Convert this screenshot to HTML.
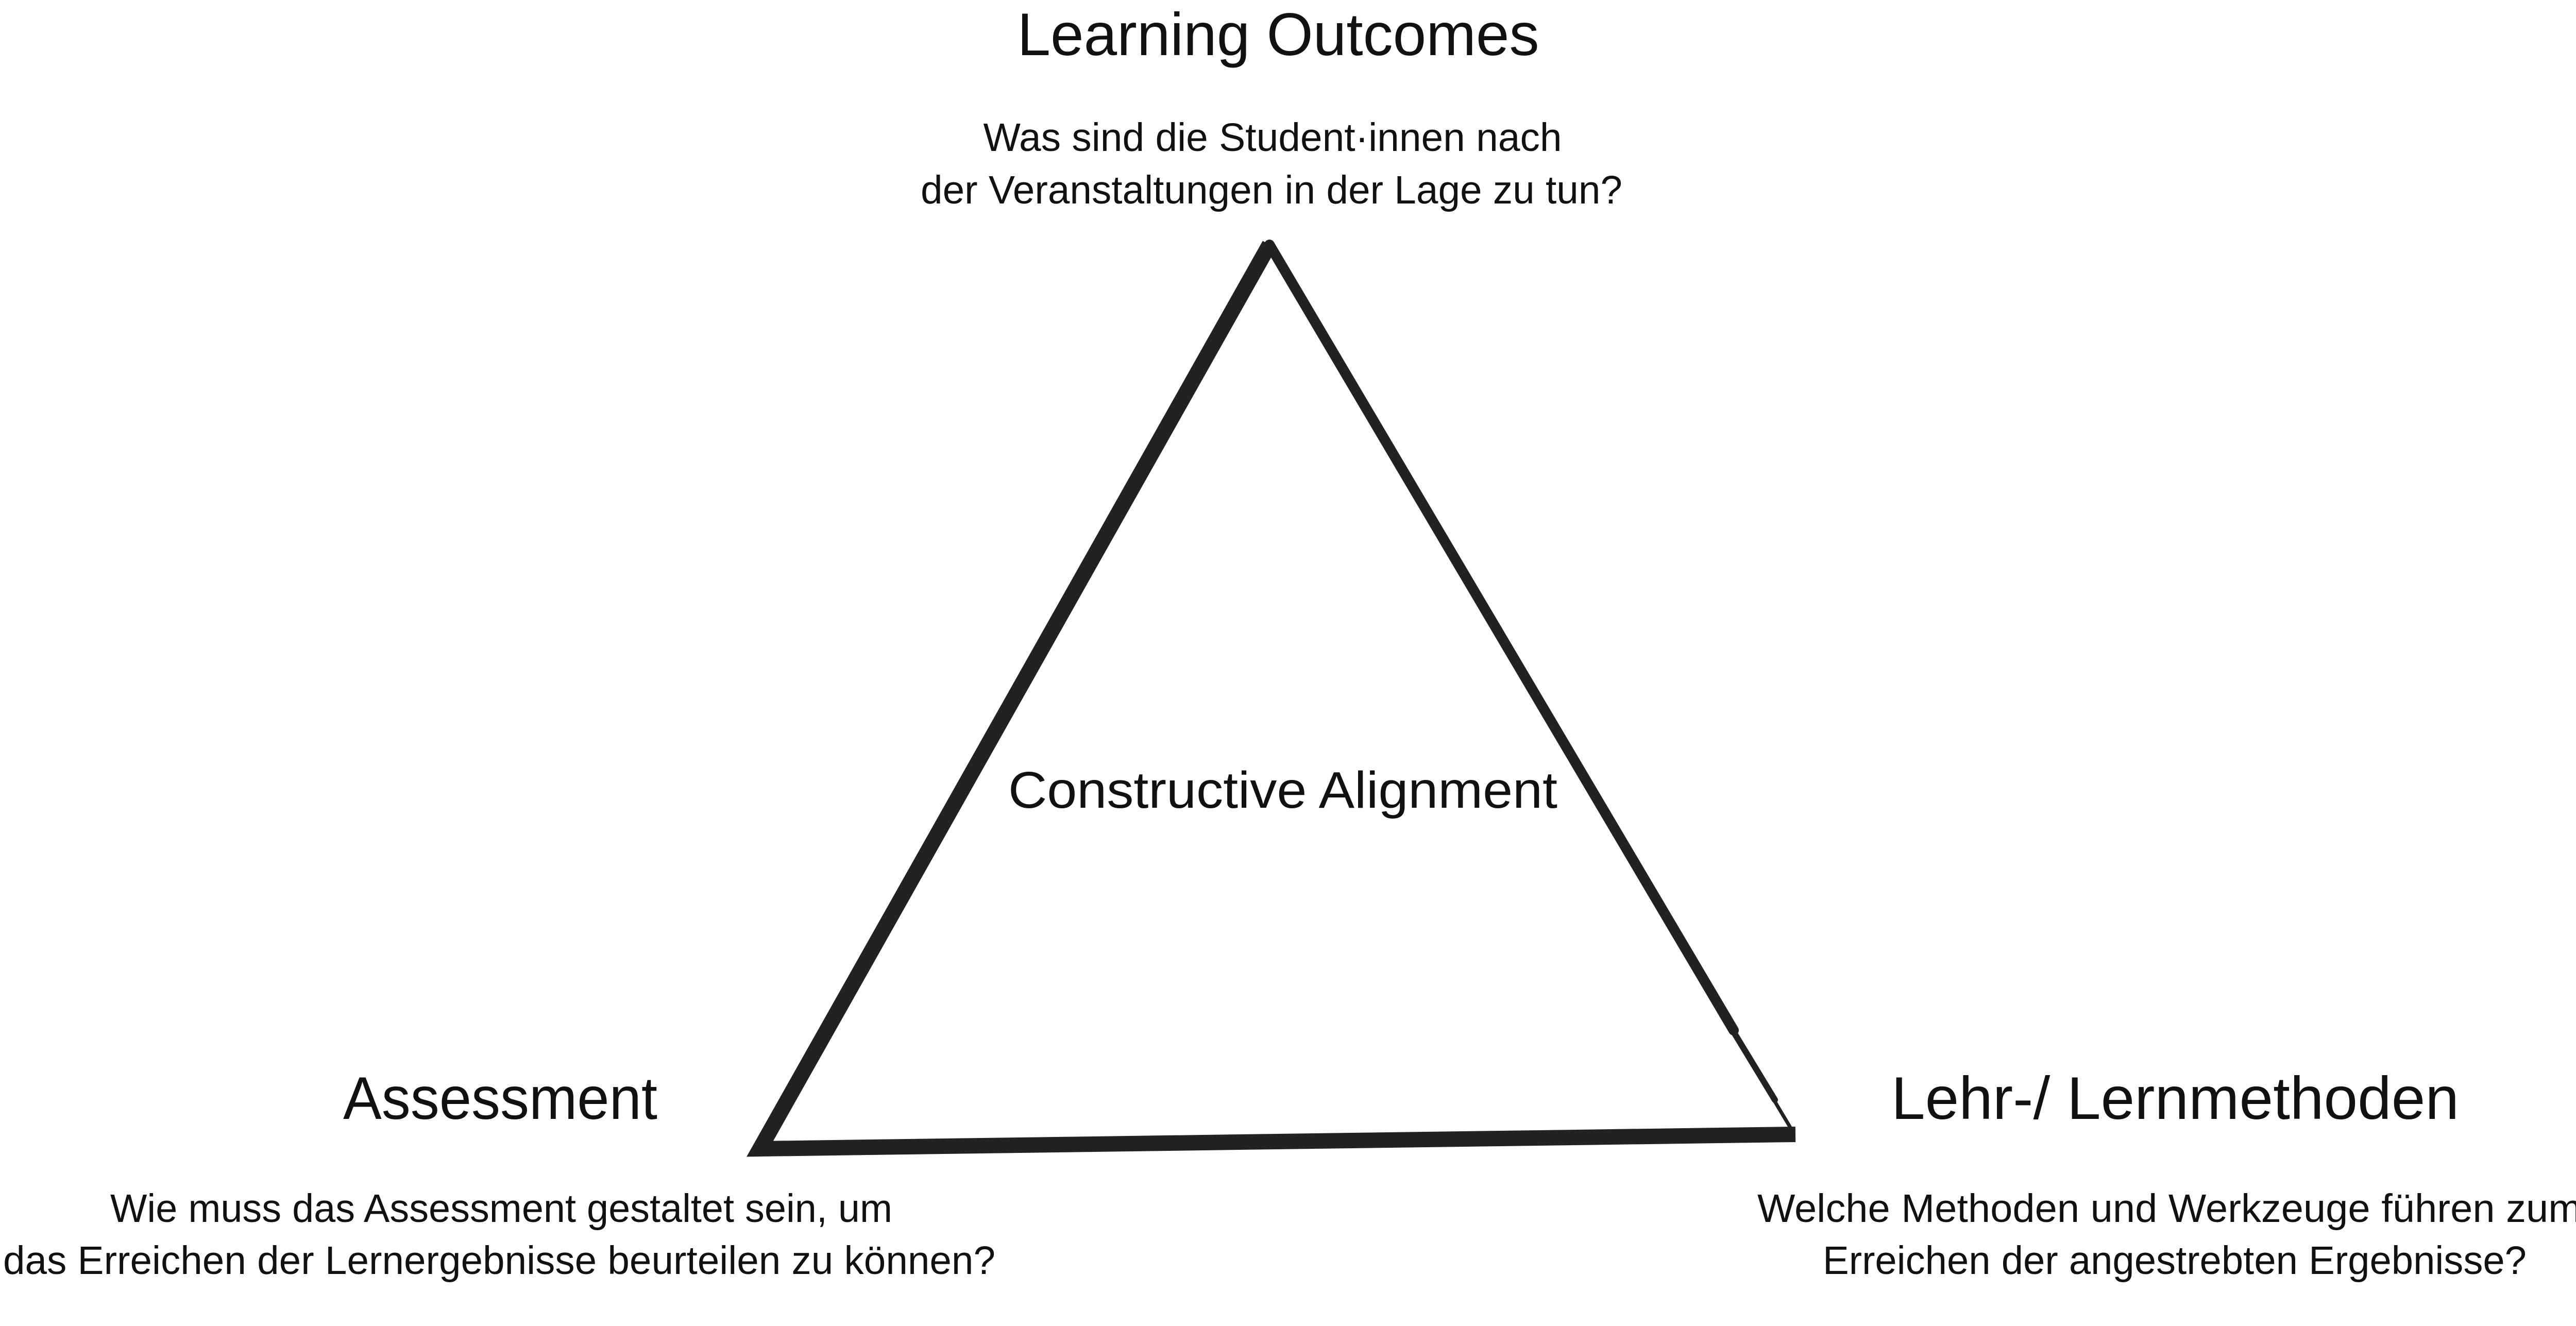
<!DOCTYPE html>
<html><head><meta charset="utf-8"><style>
html,body{margin:0;padding:0;background:#fff;}
svg{display:block;}
text{font-family:"Liberation Sans",sans-serif;fill:#111;}
</style></head><body>
<svg width="5037" height="2574" viewBox="0 0 5037 2574" xmlns="http://www.w3.org/2000/svg">
<path d="M3485,2202 L1475,2230 L2464,475" fill="none" stroke="#222" stroke-width="30" stroke-linejoin="miter" stroke-miterlimit="10"/>
<path d="M2464,475 L3365,2000" fill="none" stroke="#222" stroke-width="20" stroke-linecap="round"/>
<path d="M3360,1995 L3445,2135" fill="none" stroke="#222" stroke-width="12" stroke-linecap="round"/>
<path d="M3440,2130 L3480,2197" fill="none" stroke="#222" stroke-width="7" stroke-linecap="round"/>
<text x="2481" y="107" font-size="117" text-anchor="middle" textLength="1013" lengthAdjust="spacingAndGlyphs">Learning Outcomes</text>
<text x="2470" y="293" font-size="77" text-anchor="middle" textLength="1123" lengthAdjust="spacingAndGlyphs">Was sind die Student·innen nach</text>
<text x="2468" y="395" font-size="77" text-anchor="middle" textLength="1362" lengthAdjust="spacingAndGlyphs">der Veranstaltungen in der Lage zu tun?</text>
<text x="2490" y="1568" font-size="100" text-anchor="middle" textLength="1066" lengthAdjust="spacingAndGlyphs">Constructive Alignment</text>
<text x="971" y="2172" font-size="117" text-anchor="middle" textLength="610" lengthAdjust="spacingAndGlyphs">Assessment</text>
<text x="973" y="2372" font-size="77" text-anchor="middle" textLength="1518" lengthAdjust="spacingAndGlyphs">Wie muss das Assessment gestaltet sein, um</text>
<text x="969" y="2473" font-size="77" text-anchor="middle" textLength="1926" lengthAdjust="spacingAndGlyphs">das Erreichen der Lernergebnisse beurteilen zu können?</text>
<text x="4222" y="2172" font-size="117" text-anchor="middle" textLength="1102" lengthAdjust="spacingAndGlyphs">Lehr-/ Lernmethoden</text>
<text x="4211" y="2372" font-size="77" text-anchor="middle" textLength="1600" lengthAdjust="spacingAndGlyphs">Welche Methoden und Werkzeuge führen zum</text>
<text x="4221" y="2473" font-size="77" text-anchor="middle" textLength="1366" lengthAdjust="spacingAndGlyphs">Erreichen der angestrebten Ergebnisse?</text>
</svg>
</body></html>
